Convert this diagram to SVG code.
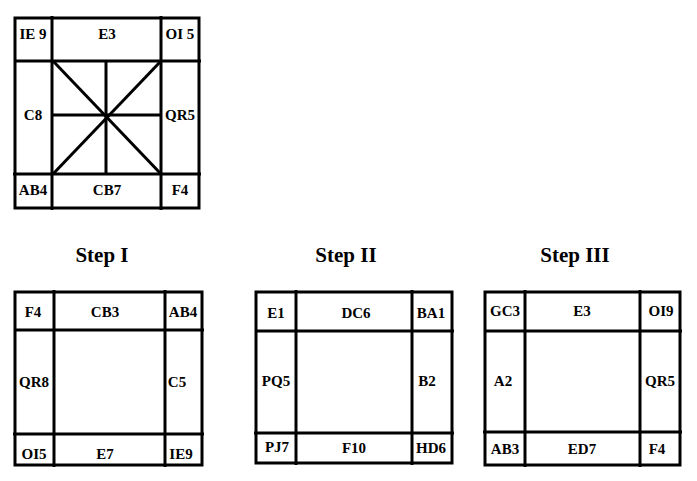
<svg xmlns="http://www.w3.org/2000/svg" width="697" height="481" viewBox="0 0 697 481">
<style>
.b{fill:none;stroke:#000;stroke-width:3}
.l{stroke:#000;stroke-width:3}
.t{font-family:'Liberation Serif','DejaVu Serif','Times New Roman',serif;font-weight:bold;font-size:15px;text-anchor:middle}
.h{font-family:'Liberation Serif','DejaVu Serif','Times New Roman',serif;font-weight:bold;font-size:21px;text-anchor:middle}
</style>
<rect width="697" height="481" fill="#fff"/>
<g id="top">
<rect class="b" x="15" y="18" width="184" height="190"/>
<line class="l" x1="52" y1="16" x2="52" y2="210"/>
<line class="l" x1="161" y1="16" x2="161" y2="210"/>
<line class="l" x1="15" y1="61" x2="201" y2="61"/>
<line class="l" x1="13" y1="174" x2="201" y2="174"/>
<line class="l" x1="53" y1="61" x2="161" y2="174"/>
<line class="l" x1="161" y1="61" x2="53" y2="174"/>
<line class="l" x1="106" y1="61" x2="106" y2="174"/>
<line class="l" x1="53" y1="115" x2="161" y2="115"/>
<text class="t" x="33" y="39">IE 9</text><text class="t" x="107" y="39">E3</text><text class="t" x="180" y="39">OI 5</text>
<text class="t" x="33" y="120">C8</text><text class="t" x="180" y="120">QR5</text>
<text class="t" x="33" y="195">AB4</text><text class="t" x="107" y="195">CB7</text><text class="t" x="180" y="195">F4</text>
</g>
<g id="step1">
<text class="h" x="102" y="262">Step I</text>
<rect class="b" x="15" y="292" width="187" height="173"/>
<line class="l" x1="54" y1="290" x2="54" y2="467"/>
<line class="l" x1="165" y1="290" x2="165" y2="467"/>
<line class="l" x1="15" y1="330" x2="204" y2="330"/>
<line class="l" x1="13" y1="434" x2="204" y2="434"/>
<text class="t" x="33" y="317">F4</text><text class="t" x="105" y="317">CB3</text><text class="t" x="183" y="317">AB4</text>
<text class="t" x="34" y="387">QR8</text><text class="t" x="177" y="387">C5</text>
<text class="t" x="34" y="459">OI5</text><text class="t" x="105" y="459">E7</text><text class="t" x="181" y="459">IE9</text>
</g>
<g id="step2">
<text class="h" x="346" y="262">Step II</text>
<rect class="b" x="256" y="292" width="196" height="171"/>
<line class="l" x1="296" y1="290" x2="296" y2="465"/>
<line class="l" x1="412" y1="290" x2="412" y2="465"/>
<line class="l" x1="256" y1="331" x2="454" y2="331"/>
<line class="l" x1="254" y1="433" x2="454" y2="433"/>
<text class="t" x="276" y="318">E1</text><text class="t" x="356" y="318">DC6</text><text class="t" x="431" y="318">BA1</text>
<text class="t" x="276" y="386">PQ5</text><text class="t" x="427" y="386">B2</text>
<text class="t" x="277" y="452">PJ7</text><text class="t" x="354" y="453">F10</text><text class="t" x="431" y="453">HD6</text>
</g>
<g id="step3">
<text class="h" x="575" y="262">Step III</text>
<rect class="b" x="485" y="292" width="195" height="173"/>
<line class="l" x1="525" y1="290" x2="525" y2="467"/>
<line class="l" x1="640" y1="290" x2="640" y2="467"/>
<line class="l" x1="485" y1="331" x2="682" y2="331"/>
<line class="l" x1="483" y1="432" x2="682" y2="432"/>
<text class="t" x="505" y="316">GC3</text><text class="t" x="582" y="316">E3</text><text class="t" x="661" y="316">OI9</text>
<text class="t" x="503" y="386">A2</text><text class="t" x="660" y="386">QR5</text>
<text class="t" x="505" y="454">AB3</text><text class="t" x="582" y="454">ED7</text><text class="t" x="657" y="454">F4</text>
</g>
</svg>
